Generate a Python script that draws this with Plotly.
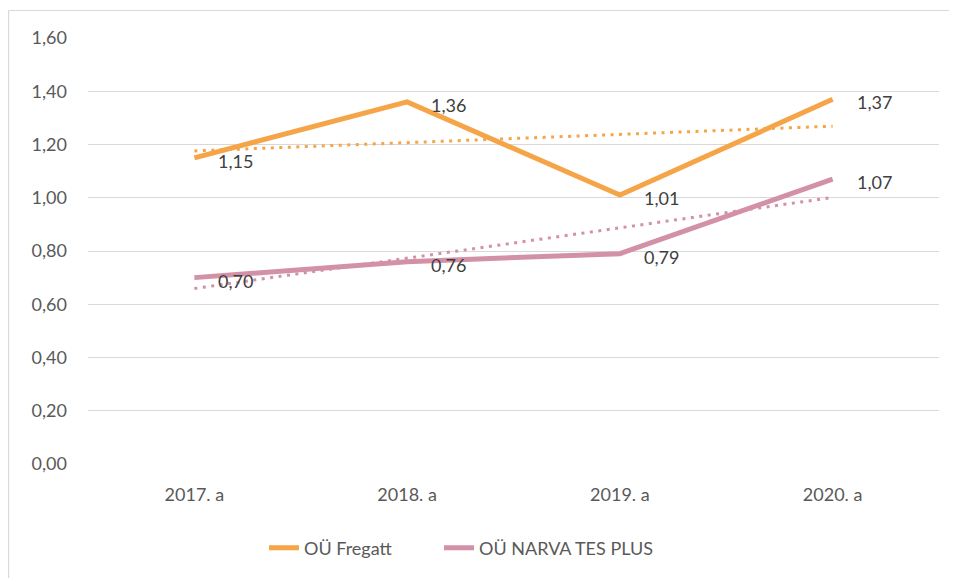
import numpy as np
import plotly.graph_objects as go

categories = ["2017. a", "2018. a", "2019. a", "2020. a"]
fregatt = [1.15, 1.36, 1.01, 1.37]
narva = [0.70, 0.76, 0.79, 1.07]
series_names = ["OÜ Fregatt", "OÜ NARVA TES PLUS"]
y_ticks = [0.0, 0.2, 0.4, 0.6, 0.8, 1.0, 1.2, 1.4, 1.6]

c_orange = "#F5A547"
c_pink = "#D391A7"
FONT = "Lato, Noto Sans, sans-serif"
FS = 18

# page body has an 8px margin; figure is placed at (8, 8) on screen
OFF = 8
W, H = 957 - OFF, 578 - OFF
L, R, T, B = 88 - OFF, 18, 38 - OFF, 114
pw, ph = W - L - R, H - T - B


def fmt(v):
    return f"{v:.2f}".replace(".", ",")


def trend(vals):
    x = np.arange(1, len(vals) + 1)
    k, b = np.polyfit(x, vals, 1)
    return list(k * x + b)


def px_x(p):  # screen px -> paper
    return (p - OFF - L) / pw


def px_y(p):
    return (H - B - (p - OFF)) / ph


fig = go.Figure()
for vals, col in [(fregatt, c_orange), (narva, c_pink)]:
    fig.add_trace(go.Scatter(x=categories, y=trend(vals), mode="lines",
                             line=dict(color=col, width=3, dash="3px,5.5px"),
                             showlegend=False, hoverinfo="skip"))
for vals, col, name, lg in [(fregatt, c_orange, series_names[0], "legend"),
                            (narva, c_pink, series_names[1], "legend2")]:
    fig.add_trace(go.Scatter(x=categories, y=vals, mode="lines", name=name, legend=lg,
                             line=dict(color=col, width=5)))
    for c, v in zip(categories, vals):
        fig.add_annotation(x=c, y=v, text=fmt(v), showarrow=False,
                           xanchor="left", yanchor="middle", xshift=22, yshift=-3,
                           font=dict(family=FONT, size=FS, color="#404040"))

# chart border (left and top)
fig.add_shape(type="line", xref="paper", yref="paper",
              x0=px_x(8.6), x1=px_x(8.6), y0=px_y(10.5), y1=px_y(580),
              line=dict(color="#D9D9D9", width=1.2))
fig.add_shape(type="line", xref="paper", yref="paper",
              x0=px_x(8.6), x1=px_x(960), y0=px_y(10.5), y1=px_y(10.5),
              line=dict(color="#D9D9D9", width=1.2))

legend_common = dict(orientation="h", xanchor="left", yanchor="middle", y=px_y(548),
                     font=dict(family=FONT, size=FS, color="#595959"), bgcolor="rgba(0,0,0,0)")

fig.update_layout(
    width=W, height=H, margin=dict(l=L, r=R, t=T, b=B, autoexpand=False),
    paper_bgcolor="white", plot_bgcolor="white",
    font=dict(family=FONT, size=FS, color="#595959"),
    legend=dict(x=px_x(264), **legend_common),
    legend2=dict(x=px_x(439), **legend_common),
    xaxis=dict(type="category", range=[-0.5, 3.5], showgrid=False, showline=False, ticks="",
               automargin=False, ticklabelstandoff=18, tickfont=dict(size=FS, color="#595959")),
    yaxis=dict(range=[0, 1.6], tickvals=y_ticks, ticktext=[fmt(v) for v in y_ticks],
               showgrid=True, gridcolor="#D9D9D9", gridwidth=1.3, zeroline=False,
               showline=False, ticks="", ticklabelstandoff=20, automargin=False,
               tickfont=dict(size=FS, color="#595959")),
)
fig.write_html("out.html")
